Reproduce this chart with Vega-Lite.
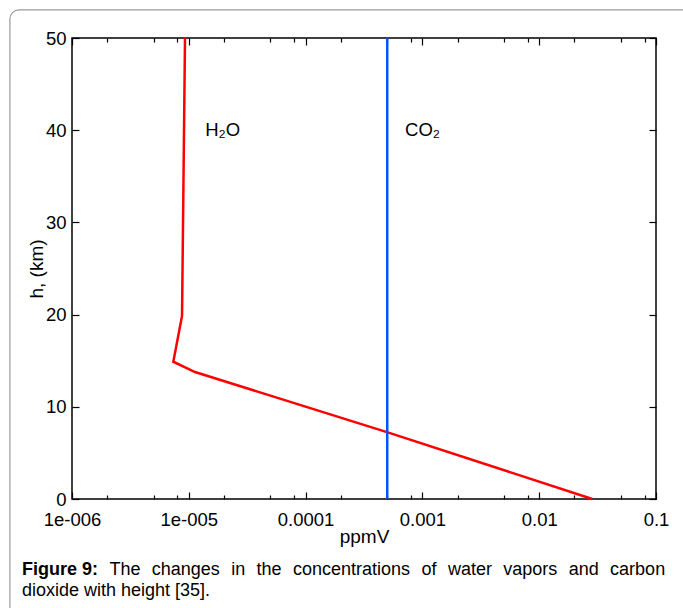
{
  "$schema": "https://vega.github.io/schema/vega-lite/v6.json",
  "width": 584,
  "height": 461,
  "autosize": "none",
  "padding": {"left": 72, "top": 38, "right": 27, "bottom": 109},
  "background": "white",
  "data": {"values": [{}]},
  "config": {
    "view": {"stroke": "black", "strokeWidth": 1.5},
    "font": "Liberation Sans",
    "text": {"font": "Liberation Sans", "color": "black", "align": "left", "baseline": "alphabetic", "fontSize": 18},
    "axis": {"grid": false, "domain": false, "tickColor": "black", "labelColor": "black", "titleColor": "black", "labelFont": "Liberation Sans", "titleFont": "Liberation Sans", "labelFontSize": 18.5, "titleFontSize": 19, "titleFontWeight": "normal", "tickWidth": 1.2}
  },
  "datasets": {
    "h2o": [
      {"h": 0, "c": 0.0285},
      {"h": 7.23, "c": 0.000505},
      {"h": 13.77, "c": 0.0000113},
      {"h": 14.89, "c": 0.00000737},
      {"h": 19.85, "c": 0.00000875},
      {"h": 50, "c": 0.00000928}
    ],
    "co2": [
      {"h": 0, "c": 0.0005},
      {"h": 50, "c": 0.0005}
    ],
    "labels": [
      {"label": "H₂O", "c": 0.0000138, "h": 40},
      {"label": "CO₂", "c": 0.00071, "h": 40}
    ]
  },
  "resolve": {"axis": {"x": "independent", "y": "independent"}},
  "layer": [
    {
      "data": {"name": "h2o"},
      "mark": {"type": "line", "color": "#ff0000", "strokeWidth": 2.5},
      "encoding": {
        "x": {"field": "c", "type": "quantitative", "scale": {"type": "log", "domain": [0.000001, 0.1]},
              "axis": {"orient": "bottom", "values": [0.000001, 0.00001, 0.0001, 0.001, 0.01, 0.1], "tickSize": -7, "labelPadding": 18, "labelFlush": false, "labelOverlap": false,
                       "labelExpr": "['1e-006','1e-005','0.0001','0.001','0.01','0.1'][round(log(datum.value)/LN10)+6]", "title": "ppmV", "titlePadding": -1}},
        "y": {"field": "h", "type": "quantitative", "scale": {"domain": [0, 50]},
              "axis": {"orient": "left", "values": [0, 10, 20, 30, 40, 50], "tickSize": -7, "labelPadding": 13, "labelFlush": false, "title": "h, (km)", "titlePadding": -1}},
        "order": {"field": "h", "type": "quantitative"}
      }
    },
    {
      "data": {"name": "co2"},
      "mark": {"type": "line", "color": "#0a50ff", "strokeWidth": 2.5},
      "encoding": {
        "x": {"field": "c", "type": "quantitative", "scale": {"type": "log", "domain": [0.000001, 0.1]},
              "axis": {"orient": "top", "values": [0.000001, 0.00001, 0.0001, 0.001, 0.01, 0.1], "tickSize": -7, "labels": false, "title": null}},
        "y": {"field": "h", "type": "quantitative", "scale": {"domain": [0, 50]},
              "axis": {"orient": "right", "values": [0, 10, 20, 30, 40, 50], "tickSize": -7, "labels": false, "title": null}},
        "order": {"field": "h", "type": "quantitative"}
      }
    },
    {
      "data": {"name": "labels"},
      "mark": {"type": "text", "align": "left", "baseline": "middle", "fontSize": 18.5},
      "encoding": {
        "x": {"field": "c", "type": "quantitative", "scale": {"type": "log", "domain": [0.000001, 0.1]},
              "axis": {"orient": "bottom", "values": [0.000002, 0.000005, 0.000008, 0.00002, 0.00005, 0.00008, 0.0002, 0.0005, 0.0008, 0.002, 0.005, 0.008, 0.02, 0.05, 0.08], "tickSize": -4, "labels": false, "title": null}},
        "y": {"field": "h", "type": "quantitative", "scale": {"domain": [0, 50]}, "axis": null},
        "text": {"field": "label"}
      }
    },
    {
      "mark": {"type": "rect", "fill": null, "stroke": "#9a9a9a", "strokeWidth": 1.2, "cornerRadius": 9, "clip": false},
      "encoding": {
        "x": {"datum": 0.000000294, "type": "quantitative", "scale": {"type": "log", "domain": [0.000001, 0.1]},
              "axis": {"orient": "top", "values": [0.000002, 0.000005, 0.000008, 0.00002, 0.00005, 0.00008, 0.0002, 0.0005, 0.0008, 0.002, 0.005, 0.008, 0.02, 0.05, 0.08], "tickSize": -4, "labels": false, "title": null}},
        "x2": {"datum": 1},
        "y": {"datum": 53.04, "type": "quantitative", "scale": {"domain": [0, 50]}, "axis": null},
        "y2": {"datum": -15}
      }
    },
    {"mark": {"type": "text", "text": "Figure 9:", "fontWeight": "bold"}, "encoding": {"x": {"datum": 0.0000003731, "type": "quantitative", "scale": {"type": "log", "domain": [0.000001, 0.1]}, "axis": null}, "y": {"datum": -8.243, "type": "quantitative", "scale": {"domain": [0, 50]}, "axis": null}}},
    {"mark": {"type": "text", "text": "The"}, "encoding": {"x": {"datum": 0.00000209, "type": "quantitative", "scale": {"type": "log", "domain": [0.000001, 0.1]}, "axis": null}, "y": {"datum": -8.243, "type": "quantitative", "scale": {"domain": [0, 50]}, "axis": null}}},
    {"mark": {"type": "text", "text": "changes"}, "encoding": {"x": {"datum": 0.00000482, "type": "quantitative", "scale": {"type": "log", "domain": [0.000001, 0.1]}, "axis": null}, "y": {"datum": -8.243, "type": "quantitative", "scale": {"domain": [0, 50]}, "axis": null}}},
    {"mark": {"type": "text", "text": "in"}, "encoding": {"x": {"datum": 0.00002307, "type": "quantitative", "scale": {"type": "log", "domain": [0.000001, 0.1]}, "axis": null}, "y": {"datum": -8.243, "type": "quantitative", "scale": {"domain": [0, 50]}, "axis": null}}},
    {"mark": {"type": "text", "text": "the"}, "encoding": {"x": {"datum": 0.00003806, "type": "quantitative", "scale": {"type": "log", "domain": [0.000001, 0.1]}, "axis": null}, "y": {"datum": -8.243, "type": "quantitative", "scale": {"domain": [0, 50]}, "axis": null}}},
    {"mark": {"type": "text", "text": "concentrations"}, "encoding": {"x": {"datum": 0.000078, "type": "quantitative", "scale": {"type": "log", "domain": [0.000001, 0.1]}, "axis": null}, "y": {"datum": -8.243, "type": "quantitative", "scale": {"domain": [0, 50]}, "axis": null}}},
    {"mark": {"type": "text", "text": "of"}, "encoding": {"x": {"datum": 0.0009824, "type": "quantitative", "scale": {"type": "log", "domain": [0.000001, 0.1]}, "axis": null}, "y": {"datum": -8.243, "type": "quantitative", "scale": {"domain": [0, 50]}, "axis": null}}},
    {"mark": {"type": "text", "text": "water"}, "encoding": {"x": {"datum": 0.001653, "type": "quantitative", "scale": {"type": "log", "domain": [0.000001, 0.1]}, "axis": null}, "y": {"datum": -8.243, "type": "quantitative", "scale": {"domain": [0, 50]}, "axis": null}}},
    {"mark": {"type": "text", "text": "vapors"}, "encoding": {"x": {"datum": 0.004927, "type": "quantitative", "scale": {"type": "log", "domain": [0.000001, 0.1]}, "axis": null}, "y": {"datum": -8.243, "type": "quantitative", "scale": {"domain": [0, 50]}, "axis": null}}},
    {"mark": {"type": "text", "text": "and"}, "encoding": {"x": {"datum": 0.01789, "type": "quantitative", "scale": {"type": "log", "domain": [0.000001, 0.1]}, "axis": null}, "y": {"datum": -8.243, "type": "quantitative", "scale": {"domain": [0, 50]}, "axis": null}}},
    {"mark": {"type": "text", "text": "carbon"}, "encoding": {"x": {"datum": 0.04046, "type": "quantitative", "scale": {"type": "log", "domain": [0.000001, 0.1]}, "axis": null}, "y": {"datum": -8.243, "type": "quantitative", "scale": {"domain": [0, 50]}, "axis": null}}},
    {"mark": {"type": "text", "text": "dioxide with height [35]."}, "encoding": {"x": {"datum": 0.0000003731, "type": "quantitative", "scale": {"type": "log", "domain": [0.000001, 0.1]}, "axis": null}, "y": {"datum": -10.52, "type": "quantitative", "scale": {"domain": [0, 50]}, "axis": null}}}
  ]
}
